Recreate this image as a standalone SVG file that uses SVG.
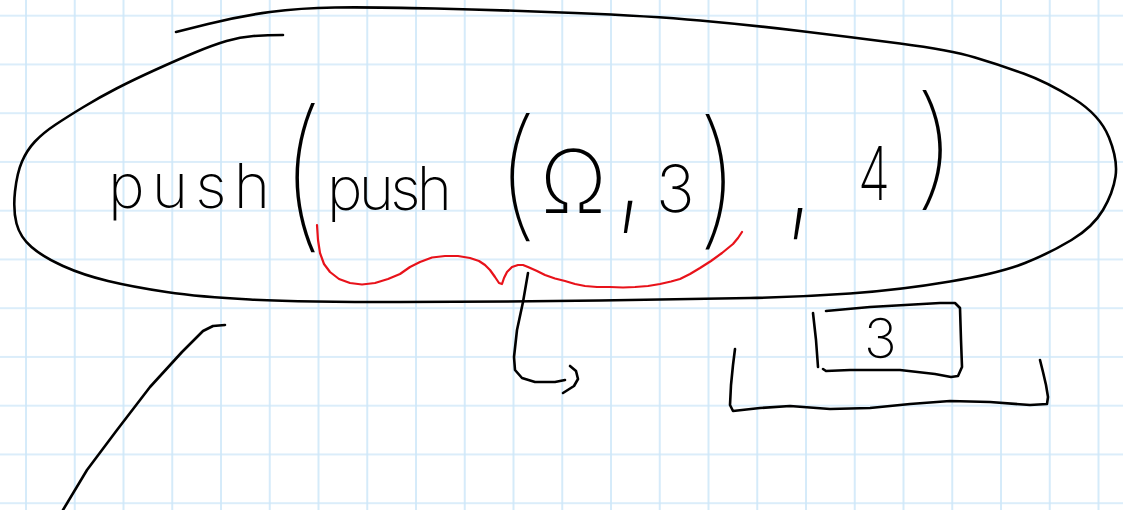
<svg xmlns="http://www.w3.org/2000/svg" width="1123" height="510" viewBox="0 0 1123 510">
<style>
.ink{fill:none;stroke:#000;stroke-width:2.6;stroke-linecap:round;stroke-linejoin:round}
.red{fill:none;stroke:#e8121a;stroke-width:2.2;stroke-linecap:round;stroke-linejoin:round}
.hw{font-family:Inter,"Open Sans","DejaVu Sans",sans-serif;font-weight:200;fill:#000}
.pa{font-weight:100}
</style>
<defs>
<pattern id="grid" patternUnits="userSpaceOnUse" x="25" y="14.7" width="48.75" height="48.75">
<path d="M1 0V48.75M0 1H48.75" stroke="#cfe8f9" stroke-width="1.7" fill="none"/>
</pattern>
</defs>
<rect width="1123" height="510" fill="#fff"/>
<rect width="1123" height="510" fill="url(#grid)"/>

<g id="outer-ellipse">
<path class="ink" d="M176,32 L208,24 Q240,16 270,12 Q300,8 335,7.5 Q370,7 435,8.5 Q500,10 575,13 Q650,16 700,20.5 Q750,25 800,31 Q850,37 900,43.5 Q950,50 975,57.5 Q1000,65 1023.5,73.5 Q1047,82 1073.5,98.5 Q1100,115 1109,137.5 Q1118,160 1115.5,176.5 Q1113,193 1103,210 Q1093,227 1071.5,240 Q1050,253 1025,263 Q1000,273 950,281.5 Q900,290 850,293.5 Q800,297 750,298 Q700,299 600,300.5 Q500,302 400,302 Q300,302 250,299.5 Q200,297 166.5,292 Q133,287 108,281 Q83,275 63,266 Q43,257 31.5,247 Q20,237 16.5,223.5 Q13,210 15,191.5 Q17,173 22,161.5 Q27,150 35,141.5 Q43,133 55,125 Q67,117 83.5,107 Q100,97 116.5,88.5 Q133,80 155,70 Q177,60 195,52.5 Q213,45 226.5,41 Q240,37 253.5,36 Q267,35 283,35"/>
</g>

<g id="expression">
<text class="hw" x="108" y="208" font-size="62" textLength="162" lengthAdjust="spacing">push</text>
<text class="hw pa" font-size="100" transform="translate(278,230) scale(1.5,1.64)">(</text>
<text class="hw" x="327" y="210" font-size="60" textLength="125" lengthAdjust="spacing">push</text>
<text class="hw pa" font-size="100" transform="translate(493,222) scale(1.5,1.41)">(</text>
<text class="hw" x="540" y="213" font-size="88">Ω</text>
<text class="hw" font-size="90" transform="translate(617,212) scale(1,1.5)">,</text>
<text class="hw" x="656" y="212" font-size="65">3</text>
<text class="hw pa" font-size="100" transform="translate(695,229) scale(1.5,1.49)">)</text>
<text class="hw" font-size="90" transform="translate(787,219) scale(1,1.45)">,</text>
<text class="hw" x="858" y="200" font-size="74" textLength="32" lengthAdjust="spacingAndGlyphs">4</text>
<text class="hw pa" font-size="100" transform="translate(912,191.5) scale(1.5,1.32)">)</text>
</g>

<g id="brace">
<polyline class="red" points="317,225 318,240 320,253 324,264 330,272 339,279 350,283 362,284.5 375,283 388,279 400,274 410,267 420,262 432,257.5 445,256 458,256 470,258 479,261 485,265 490,270 495,277 499,283 502,284 504,278 507,272 512,267 518,265 523,265 528,267 537,271 545,275 555,278.5 565,281 575,284 585,286 597,287 610,287 623,287.5 635,287 648,286 660,284 671,281.5 680,279 690,274 700,268 711,261 722,253 733,244 738,238 742,232"/>
</g>

<g id="box-3">
<polyline class="ink" points="826,311 870,307 905,305 940,303 955,303 960,308 961,340 962,367 958,376 951,377 935,374 900,370 850,370 826,371 823,369"/>
<polyline class="ink" points="813,313 816,340 818,367"/>
<text class="hw" x="864" y="358" font-size="55">3</text>
</g>

<g id="bracket">
<polyline class="ink" points="735,349 733,365 731,385 730,405 733,411 760,408 790,406 830,409 870,408 910,404 950,401 990,402 1030,405 1047,404 1048,397 1046,385 1043,372 1040,360"/>
</g>

<g id="connectors">
<polyline class="ink" points="528,273 523,302 517,330 514,357 515,370 522,378 535,382 555,382 565,380"/>
<polyline class="ink" points="570,366 576,371 578,379 574,386 563,393"/>
<polyline class="ink" points="225,325 213,326 203,331 182,352 150,387 117,430 87,470 63,510"/>
</g>
</svg>
